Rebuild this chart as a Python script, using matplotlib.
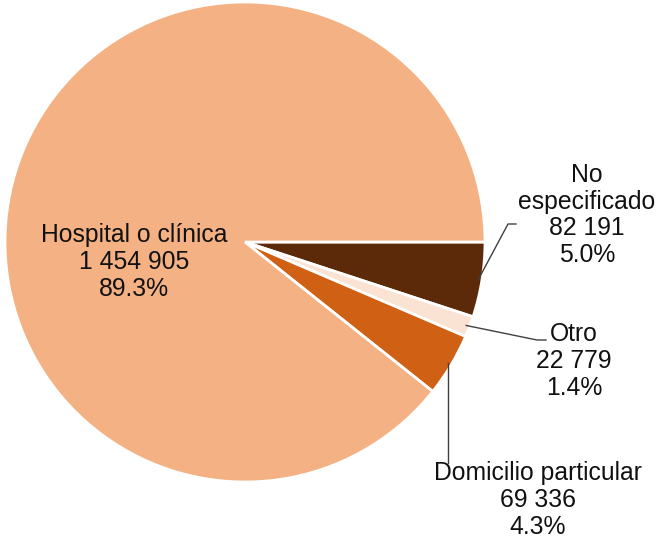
import matplotlib
matplotlib.use("Agg")
import matplotlib.pyplot as plt
import numpy as np

categories = ["No especificado", "Otro", "Domicilio particular", "Hospital o clínica"]
values = [82191, 22779, 69336, 1454905]
colors = ["#5C2A09", "#FBE3D4", "#D06014", "#F4B183"]

plt.rcParams['font.family'] = ['Liberation Sans', 'DejaVu Sans']

W, H = 662, 542
cx, cy, R = 245, 242, 240  # pixel layout of the pie

fig = plt.figure(figsize=(W / 100, H / 100), dpi=100)
ax = fig.add_axes([0, 0, 1, 1])

wedges, _ = ax.pie(values, colors=colors, startangle=0, counterclock=False,
                   radius=1.0, center=(0, 0),
                   wedgeprops=dict(edgecolor='white', linewidth=2))

ax.set_aspect('auto')
ax.set_xlim(-cx / R, (W - cx) / R)
ax.set_ylim((cy - H) / R, cy / R)
ax.axis('off')

total = sum(values)

def fmt(v):
    return f"{v:,}".replace(",", " ")

def px(x, y):
    return ((x - cx) / R, (cy - y) / R)

# label block centers (pixels)
label_pos = [(587, 215), (574, 361), (538, 500), (134, 262)]
fs = 17.8

for i, (name, v) in enumerate(zip(categories, values)):
    pct = 100 * v / total
    if name == "No especificado":
        txt = f"No\nespecificado\n{fmt(v)}\n{pct:.1f}%"
    else:
        txt = f"{name}\n{fmt(v)}\n{pct:.1f}%"
    tx, ty = px(*label_pos[i])
    ax.text(tx, ty, txt, ha='center', va='center', fontsize=fs,
            linespacing=1.15, color='#111111', multialignment='center')

    w = wedges[i]
    mid = np.deg2rad((w.theta1 + w.theta2) / 2)
    sx, sy = 0.985 * np.cos(mid), 0.985 * np.sin(mid)
    if name == "No especificado":
        p1 = px(508, 224); p2 = px(516, 224)
        ax.plot([sx, p1[0], p2[0]], [sy, p1[1], p2[1]], color='#404040', lw=1)
    elif name == "Otro":
        p1 = px(537, 340); p2 = px(546, 340)
        ax.plot([sx, p1[0], p2[0]], [sy, p1[1], p2[1]], color='#404040', lw=1)
    elif name == "Domicilio particular":
        p1 = px(0, 463)
        ax.plot([sx, sx], [sy, p1[1]], color='#404040', lw=1)

fig.savefig("out.png", dpi=100)
